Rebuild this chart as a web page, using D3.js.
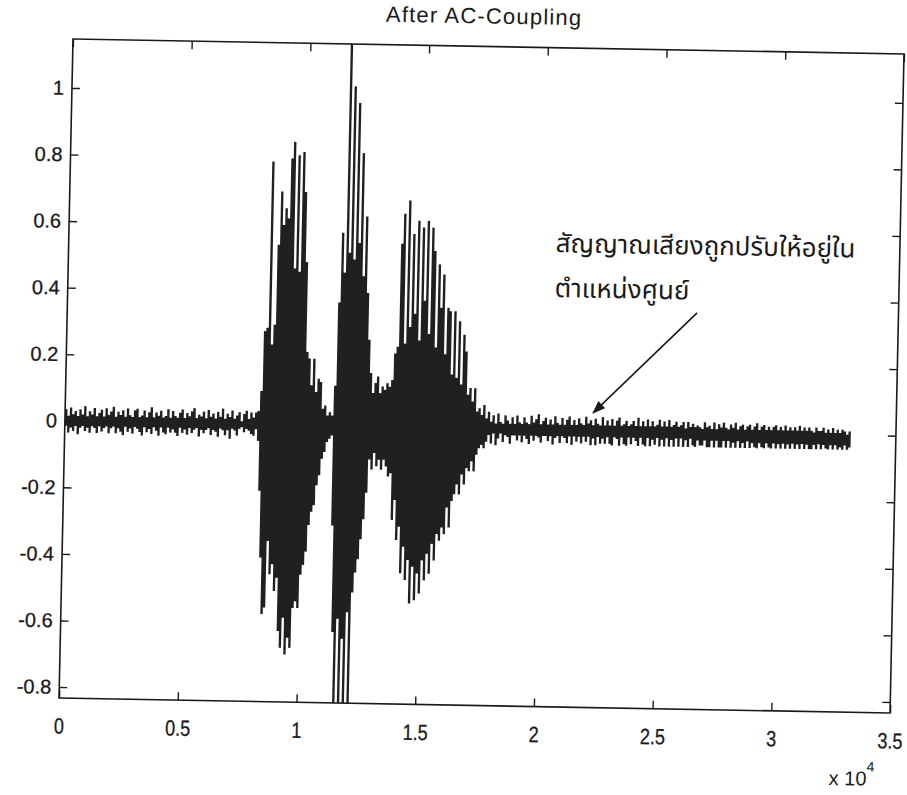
<!DOCTYPE html>
<html>
<head>
<meta charset="utf-8">
<script src="https://cdn.jsdelivr.net/npm/d3@7"></script>
<style>
  body { margin: 0; background: #fff; }
</style>
</head>
<body>
<svg id="chart" width="907" height="795"></svg>
<script>
// Waveform after AC-coupling, stored as per-column [max, min] envelopes.
// Each column covers `sampleStep` samples; each segment starts at the sample in segmentStarts.
const sampleStep = 100;
const segmentStarts = [0, 8100, 11300, 12800, 17800];

// background noise before the utterance
const leadIn = [
  [0.035,-0.015],[0.015,-0.035],[0.04,-0.02],[0.02,-0.03],[0.03,-0.015],[0.015,-0.04],[0.035,-0.02],[0.02,-0.015],[0.045,-0.03],[0.015,-0.02],
  [0.03,-0.035],[0.02,-0.015],[0.04,-0.02],[0.015,-0.035],[0.025,-0.015],[0.035,-0.03],[0.015,-0.02],[0.04,-0.015],[0.02,-0.035],[0.03,-0.02],
  [0.045,-0.015],[0.015,-0.035],[0.03,-0.02],[0.02,-0.03],[0.035,-0.04],[0.015,-0.015],[0.04,-0.03],[0.02,-0.02],[0.015,-0.035],[0.035,-0.015],
  [0.04,-0.02],[0.015,-0.03],[0.02,-0.04],[0.035,-0.015],[0.015,-0.03],[0.03,-0.02],[0.045,-0.035],[0.015,-0.015],[0.03,-0.025],[0.02,-0.04],
  [0.035,-0.015],[0.015,-0.03],[0.02,-0.035],[0.04,-0.015],[0.015,-0.03],[0.035,-0.02],[0.02,-0.03],[0.015,-0.04],[0.03,-0.015],[0.04,-0.03],
  [0.015,-0.02],[0.03,-0.035],[0.02,-0.015],[0.035,-0.03],[0.045,-0.02],[0.015,-0.015],[0.025,-0.04],[0.02,-0.02],[0.035,-0.03],[0.015,-0.02],
  [0.04,-0.015],[0.02,-0.035],[0.03,-0.02],[0.015,-0.025],[0.035,-0.04],[0.02,-0.015],[0.045,-0.02],[0.015,-0.035],[0.03,-0.02],[0.02,-0.045],
  [0.04,-0.015],[0.015,-0.02],[0.025,-0.035],[0.035,-0.015],[0.008,-0.01],[0.03,-0.025],[0.04,-0.015],[0.015,-0.02],[0.035,-0.03],[0.02,-0.035],
  [0.035,-0.015]
];

// first syllable
const syllable1 = [
  [0.04,-0.05],[0.10,-0.20],[0.28,-0.40],[0.29,-0.57],[0.79,-0.55],[0.24,-0.35],[0.30,-0.45],[0.54,-0.42],
  [0.70,-0.50],[0.60,-0.46],[0.65,-0.62],[0.62,-0.67],[0.80,-0.58],[0.85,-0.69],[0.47,-0.64],[0.81,-0.67],
  [0.46,-0.55],[0.82,-0.53],[0.70,-0.55],[0.49,-0.45],[0.22,-0.42],[0.20,-0.38],[0.12,-0.30],[0.20,-0.26],
  [0.10,-0.24],[0.14,-0.18],[0.13,-0.15],[0.05,-0.10],[0.06,-0.08],[0.03,-0.05],[0.04,-0.04],[0.03,-0.03]
];

// second syllable (strongest, clipped by the axes)
const syllable2 = [
  [0.12,-0.30],[0.37,-0.62],[0.58,-0.95],[0.46,-0.58],[1.25,-0.95],[0.52,-0.64],[1.02,-0.95],[0.50,-0.56],
  [0.97,-0.95],[0.55,-0.50],[0.82,-0.44],[0.45,-0.40],[0.63,-0.34],[0.40,-0.28],[0.26,-0.20]
];

// third syllable with its decaying tail
const syllable3 = [
  [0.16,-0.10],[0.10,-0.13],[0.13,-0.08],[0.15,-0.12],[0.10,-0.10],[0.12,-0.13],[0.11,-0.10],[0.13,-0.12],[0.12,-0.15],[0.14,-0.14],
  [0.22,-0.28],[0.24,-0.22],[0.55,-0.34],[0.64,-0.30],[0.25,-0.44],[0.68,-0.36],[0.30,-0.46],[0.58,-0.40],[0.34,-0.53],[0.62,-0.42],
  [0.26,-0.52],[0.60,-0.44],[0.38,-0.50],[0.62,-0.40],[0.28,-0.46],[0.60,-0.38],[0.53,-0.44],[0.24,-0.35],[0.49,-0.40],[0.36,-0.32],
  [0.46,-0.34],[0.22,-0.30],[0.36,-0.32],[0.35,-0.24],[0.16,-0.30],[0.35,-0.22],[0.15,-0.20],[0.32,-0.17],[0.13,-0.20],[0.28,-0.14],
  [0.23,-0.17],[0.10,-0.12],[0.12,-0.13],[0.08,-0.10],[0.12,-0.13],[0.05,-0.08],[0.06,-0.06],[0.04,-0.05],[0.07,-0.06],[0.03,-0.04]
];

// background noise after the utterance
const tail = [
  [0.05,-0.02],[0.02,-0.045],[0.04,-0.015],[0.015,-0.05],[0.045,-0.03],[0.02,-0.015],[0.015,-0.04],[0.04,-0.02],[0.025,-0.025],[0.015,-0.045],
  [0.035,-0.02],[0.015,-0.02],[0.04,-0.035],[0.02,-0.02],[0.015,-0.04],[0.035,-0.02],[0.02,-0.03],[0.015,-0.045],[0.04,-0.02],[0.02,-0.035],
  [0.03,-0.02],[0.045,-0.025],[0.015,-0.04],[0.025,-0.02],[0.035,-0.02],[0.015,-0.035],[0.03,-0.02],[0.015,-0.045],[0.04,-0.025],[0.02,-0.02],
  [0.015,-0.04],[0.035,-0.02],[0.015,-0.025],[0.03,-0.04],[0.04,-0.02],[0.015,-0.045],[0.03,-0.02],[0.015,-0.035],[0.035,-0.02],[0.02,-0.04],
  [0.015,-0.02],[0.04,-0.035],[0.02,-0.02],[0.03,-0.045],[0.015,-0.025],[0.035,-0.045],[0.02,-0.02],[0.015,-0.04],[0.04,-0.025],[0.015,-0.04],
  [0.03,-0.02],[0.015,-0.04],[0.035,-0.045],[0.015,-0.02],[0.03,-0.025],[0.04,-0.045],[0.015,-0.02],[0.02,-0.04],[0.03,-0.045],[0.015,-0.02],
  [0.02,-0.04],[0.03,-0.02],[0.015,-0.03],[0.04,-0.045],[0.015,-0.02],[0.03,-0.04],[0.015,-0.045],[0.035,-0.02],[0.015,-0.045],[0.03,-0.025],
  [0.015,-0.04],[0.02,-0.02],[0.035,-0.045],[0.015,-0.025],[0.03,-0.045],[0.015,-0.02],[0.035,-0.045],[0.015,-0.025],[0.02,-0.045],[0.03,-0.02],
  [0.015,-0.045],[0.02,-0.02],[0.03,-0.045],[0.01,-0.025],[0.03,-0.045],[0.015,-0.02],[0.025,-0.04],[0.015,-0.045],[0.02,-0.025],[0.015,-0.04],
  [0.01,-0.04],[0.03,-0.025],[0.015,-0.045],[0.02,-0.045],[0.01,-0.025],[0.03,-0.045],[0.01,-0.025],[0.025,-0.045],[0.015,-0.045],[0.03,-0.025],
  [0.015,-0.045],[0.01,-0.025],[0.025,-0.045],[0.015,-0.03],[0.03,-0.045],[0.01,-0.025],[0.02,-0.045],[0.025,-0.03],[0.01,-0.045],[0.02,-0.025],
  [0.025,-0.045],[0.01,-0.03],[0.02,-0.042],[0.03,-0.045],[0.01,-0.03],[0.02,-0.042],[0.025,-0.045],[0.01,-0.03],[0.02,-0.042],[0.01,-0.045],
  [0.02,-0.03],[0.025,-0.045],[0.01,-0.032],[0.02,-0.045],[0.01,-0.03],[0.025,-0.045],[0.01,-0.032],[0.02,-0.045],[0.01,-0.03],[0.02,-0.045],
  [0.01,-0.032],[0.025,-0.045],[0.01,-0.03],[0.02,-0.045],[0.01,-0.032],[0.02,-0.045],[0.01,-0.045],[0.005,-0.032],[0.02,-0.045],[0.01,-0.03],
  [0.01,-0.045],[0.02,-0.032],[0.005,-0.042],[0.015,-0.045],[0.005,-0.032],[0.02,-0.045],[0.005,-0.032],[0.015,-0.045],[0.005,-0.038],[0.015,-0.045],
  [0.01,-0.032],[0.0,-0.045],[0.01,-0.038]
];

const segments = [leadIn, syllable1, syllable2, syllable3, tail];

const xTicks = [0, 5000, 10000, 15000, 20000, 25000, 30000, 35000];
const xTickLabels = ["0", "0.5", "1", "1.5", "2", "2.5", "3", "3.5"];
const yTicks = [-0.8, -0.6, -0.4, -0.2, 0, 0.2, 0.4, 0.6, 0.8, 1];
const yTickLabels = ["-0.8", "-0.6", "-0.4", "-0.2", "0", "0.2", "0.4", "0.6", "0.8", "1"];
const xDomain = [0, 35000];
const yDomain = [-0.833, 1.147];

const titleText = "After AC-Coupling";
const exponentBase = "x 10";
const exponentPower = "4";
const noteLines = ["สัญญาณเสียงถูกปรับให้อยู่ใน", "ตำแหน่งศูนย์"];
const noteAnchor = [{ t: 20500, v: 0.533 }, { t: 20500, v: 0.398 }];
const arrowFrom = { t: 26520, v: 0.358 };
const arrowTo = { t: 22230, v: 0.052 };

// ---------------------------------------------------------------------------
const W = 831, H = 659;
const ink = "#1a1a1a";
const svg = d3.select("#chart");

const defs = svg.append("defs");
defs.append("marker")
  .attr("id", "arrowHead")
  .attr("viewBox", "0 0 13 10")
  .attr("refX", 12).attr("refY", 5)
  .attr("markerWidth", 13).attr("markerHeight", 10)
  .attr("markerUnits", "userSpaceOnUse")
  .attr("orient", "auto")
  .append("path").attr("d", "M0,0 L13,5 L0,10 Z").attr("fill", ink);

defs.append("clipPath").attr("id", "plotClip")
  .append("rect").attr("width", W).attr("height", H);

// the sheet sits slightly askew on the page
const g = svg.append("g").attr("transform", "matrix(1,0.018,-0.0212,1,73,39)");

const x = d3.scaleLinear().domain(xDomain).range([0, W]);
const y = d3.scaleLinear().domain(yDomain).range([H, 0]);

// flatten segments into envelope columns
const columns = [];
segments.forEach((seg, si) => {
  seg.forEach((p, k) => {
    columns.push({ t: segmentStarts[si] + k * sampleStep, hi: p[0], lo: p[1] });
  });
});
const last = columns[columns.length - 1];
columns.push({ t: last.t + sampleStep, hi: last.hi, lo: last.lo });

const envelope = d3.area()
  .x(d => x(d.t))
  .y0(d => y(d.lo))
  .y1(d => y(d.hi))
  .curve(d3.curveStepAfter);

g.append("path")
  .datum(columns)
  .attr("clip-path", "url(#plotClip)")
  .attr("d", envelope)
  .attr("fill", "#202020");

// axes with inward ticks on all four sides
const tickLen = 8;
const xAxisB = d3.axisBottom(x).tickValues(xTicks)
  .tickFormat((d, i) => xTickLabels[i]).tickSizeInner(-tickLen).tickSizeOuter(0).tickPadding(20);
const xAxisT = d3.axisTop(x).tickValues(xTicks)
  .tickFormat("").tickSizeInner(-tickLen).tickSizeOuter(0);
const yAxisL = d3.axisLeft(y).tickValues(yTicks)
  .tickFormat((d, i) => yTickLabels[i]).tickSizeInner(-tickLen).tickSizeOuter(0).tickPadding(8);
const yAxisR = d3.axisRight(y).tickValues(yTicks)
  .tickFormat("").tickSizeInner(-tickLen).tickSizeOuter(0);

const gxB = g.append("g").attr("transform", `translate(0,${H})`).call(xAxisB);
const gxT = g.append("g").call(xAxisT);
const gyL = g.append("g").call(yAxisL);
const gyR = g.append("g").attr("transform", `translate(${W},0)`).call(yAxisR);

[gxB, gxT, gyL, gyR].forEach(a => {
  a.select(".domain").remove();
  a.selectAll(".tick line").attr("stroke", ink).attr("stroke-width", 1.4);
});
gxB.selectAll(".tick text")
  .attr("fill", ink)
  .attr("stroke", ink).attr("stroke-width", 0.3)
  .attr("transform", "scale(0.82,1)")
  .style("font-family", "'Liberation Sans', Arial, sans-serif")
  .style("font-size", "22px");
gyL.selectAll(".tick text")
  .attr("fill", ink)
  .attr("stroke", ink).attr("stroke-width", 0.3)
  .style("font-family", "'Liberation Sans', Arial, sans-serif")
  .style("font-size", "20px");

// frame
g.append("rect")
  .attr("width", W).attr("height", H)
  .attr("fill", "none").attr("stroke", ink).attr("stroke-width", 1.6);

// title
g.append("text")
  .attr("x", W / 2 - 5).attr("y", -23)
  .attr("text-anchor", "middle")
  .attr("fill", ink)
  .style("font-family", "'Liberation Sans', Arial, sans-serif")
  .style("font-size", "22px")
  .style("letter-spacing", "1.2px")
  .text(titleText);

// exponent note under the x axis
const expo = g.append("text")
  .attr("x", W - 60).attr("y", H + 73)
  .attr("fill", ink)
  .style("font-family", "'Liberation Sans', Arial, sans-serif")
  .style("font-size", "20px")
  .text(exponentBase);
expo.append("tspan").attr("dy", -14).style("font-size", "14px").text(exponentPower);

// annotation
g.selectAll("text.note").data(noteLines).join("text")
  .attr("class", "note")
  .attr("x", (d, i) => x(noteAnchor[i].t))
  .attr("y", (d, i) => y(noteAnchor[i].v))
  .attr("fill", ink)
  .style("font-family", "'Noto Sans Thai', 'Loma', 'Garuda', 'Tahoma', 'Noto Sans', sans-serif")
  .style("font-size", "26px")
  .text(d => d);

g.append("line")
  .attr("x1", x(arrowFrom.t)).attr("y1", y(arrowFrom.v))
  .attr("x2", x(arrowTo.t)).attr("y2", y(arrowTo.v))
  .attr("stroke", ink).attr("stroke-width", 1.6)
  .attr("marker-end", "url(#arrowHead)");
</script>
</body>
</html>
